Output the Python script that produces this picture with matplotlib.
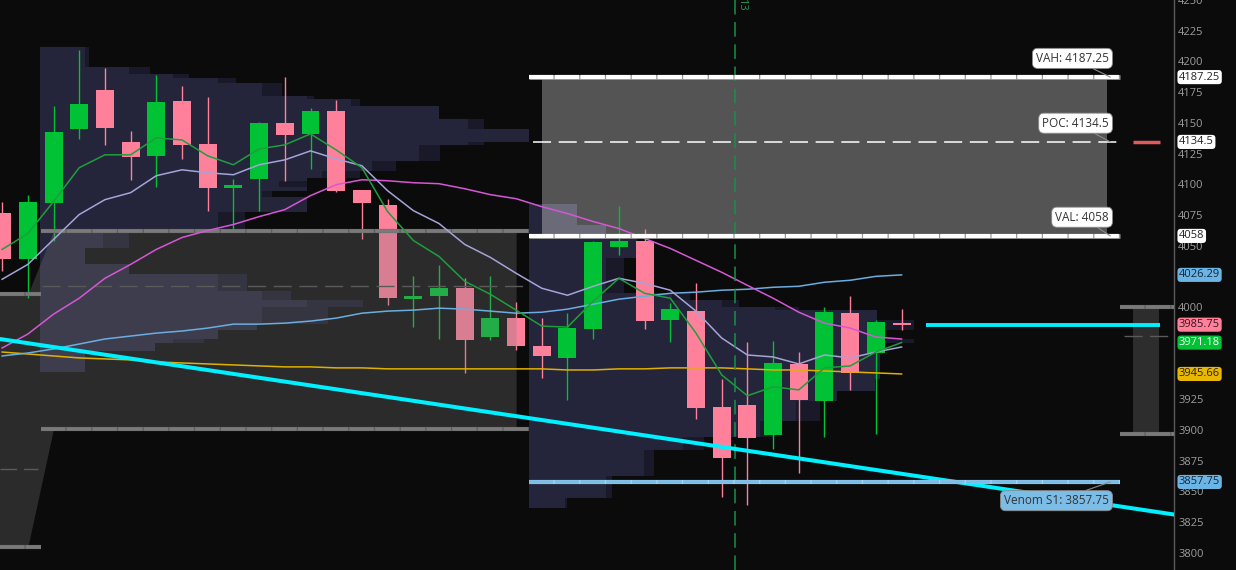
import matplotlib
matplotlib.use("Agg")
import matplotlib.pyplot as plt
import matplotlib.transforms as mtransforms
from matplotlib.patches import Rectangle

plt.rcParams['font.family'] = ['Open Sans', 'DejaVu Sans']
plt.rcParams['lines.scale_dashes'] = False

# ---------------- data ----------------
bars = list(range(-1, 35))
opens = [4077.0, 4038.9, 4085.1, 4145.1, 4176.7, 4134.5, 4123.2, 4167.7, 4132.9, 4097.2,
         4104.5, 4149.9, 4141.0, 4159.6, 4095.6, 4083.5, 4006.5, 4008.9, 4015.4, 3975.7,
         3991.1, 3968.4, 3958.7, 3982.2, 4048.6, 4053.5, 3989.5, 3996.8, 3919.0, 3920.6,
         3896.3, 3953.8, 3923.8, 3995.1, 3962.7, 3986.5]
highs = [4085.9, 4091.6, 4163.7, 4209.1, 4194.5, 4143.4, 4188.8, 4179.9, 4171.0, 4104.5,
         4150.7, 4187.2, 4162.1, 4168.6, 4095.6, 4088.3, 4025.1, 4034.0, 4023.5, 4025.1,
         4004.1, 3991.1, 3995.1, 4053.5, 4082.7, 4064.0, 4003.2, 4019.4, 3941.7, 3971.6,
         3972.4, 3963.5, 4000.0, 4008.9, 3989.5, 3998.4]
lows = [4029.2, 4007.3, 4053.5, 4137.0, 4132.1, 4103.7, 4098.1, 4120.7, 4078.6, 4064.0,
        4078.6, 4102.9, 4112.6, 4094.0, 4055.1, 4001.6, 3983.8, 3974.1, 3946.5, 3973.3,
        3965.2, 3942.5, 3924.6, 3974.1, 4042.1, 3982.2, 3971.6, 3909.2, 3845.2, 3838.7,
        3884.9, 3864.7, 3894.7, 3932.7, 3897.1, 3981.4]
closes = [4038.9, 4085.9, 4142.6, 4165.3, 4145.9, 4122.4, 4166.9, 4132.1, 4097.2, 4099.7,
          4149.9, 4140.2, 4159.6, 4094.8, 4085.1, 4007.3, 4008.9, 4015.4, 3973.3, 3991.1,
          3968.4, 3960.3, 3983.0, 4052.7, 4053.5, 3988.7, 3998.4, 3918.2, 3877.6, 3893.8,
          3954.6, 3924.6, 3995.9, 3946.5, 3987.8, 3985.75]

ma_fast = [4047.0, 4059.9, 4085.9, 4113.5, 4124.0, 4124.0, 4137.8, 4136.1, 4123.2, 4115.9,
           4128.8, 4132.1, 4141.0, 4128.0, 4113.5, 4077.8, 4054.3, 4041.3, 4021.1, 4010.5,
           3997.6, 3984.6, 3983.8, 4004.9, 4023.5, 4011.3, 4007.3, 3978.9, 3944.9, 3927.9,
           3935.2, 3932.7, 3950.6, 3952.2, 3963.5, 3971.18]
ma_mid = [4022.7, 4034.8, 4055.1, 4075.4, 4087.5, 4093.2, 4107.0, 4111.8, 4109.4, 4107.8,
          4115.9, 4119.9, 4127.2, 4120.7, 4115.1, 4094.8, 4078.6, 4068.1, 4051.1, 4040.5,
          4027.6, 4015.4, 4009.7, 4017.0, 4023.5, 4019.4, 4013.8, 3996.8, 3974.9, 3961.1,
          3959.5, 3953.8, 3961.1, 3958.7, 3963.5, 3967.6]
ma_slow = [3966.8, 3978.1, 3994.3, 4007.3, 4023.5, 4034.8, 4047.0, 4056.7, 4062.4, 4067.3,
           4073.7, 4079.4, 4090.8, 4099.7, 4103.7, 4102.9, 4101.3, 4100.5, 4096.4, 4091.6,
           4088.3, 4081.8, 4076.2, 4069.7, 4064.0, 4055.9, 4047.8, 4038.1, 4028.4, 4017.8,
           4007.3, 3995.9, 3987.0, 3983.0, 3975.7, 3974.1]
ma_blue = [3960.3, 3962.7, 3966.0, 3970.0, 3974.1, 3976.5, 3978.9, 3980.6, 3983.0, 3986.2,
           3986.2, 3987.0, 3988.7, 3991.1, 3995.1, 3996.8, 3997.6, 3999.2, 3998.4, 3996.8,
           3995.1, 3995.9, 3998.4, 4002.4, 4006.5, 4008.9, 4011.3, 4012.2, 4013.8, 4014.6,
           4016.2, 4017.0, 4020.3, 4021.9, 4025.1, 4026.29]
ma_gold = [3963.5, 3961.9, 3960.3, 3958.7, 3957.9, 3957.1, 3955.4, 3954.6, 3953.8, 3953.0,
           3952.2, 3951.4, 3951.4, 3950.6, 3950.6, 3949.8, 3949.8, 3949.8, 3949.8, 3949.8,
           3949.8, 3949.8, 3948.9, 3948.9, 3949.8, 3949.8, 3950.6, 3950.6, 3950.6, 3949.8,
           3948.9, 3948.9, 3948.1, 3947.3, 3946.5, 3945.66]

# value-area levels
VAH, POC, VAL = 4187.25, 4134.5, 4058.0
S1 = 3857.75
LAST = 3985.75
prev_bars = [-1.3, 0, 1, 19]
prev_upper = [4010.5, 4010.5, 4062.25, 4062.25]
prev_lower = [3804.75, 3804.75, 3901.0, 3901.0]
prev_poc = [3868.0, 4017.0]
next_levels = [4000.0, 3976.5, 3897.0]
trend_pts = [(0, 3970.7), (34, 3864.4)]

# volume profiles (price low, price high, width in bars, extra width)
lp_lo = [3947.3, 3964.3, 3970.8, 3974.1, 3981.4, 3986.2, 4000.0, 4005.7, 4013.0, 4026.7,
         4034.8, 4047.8, 4062.4, 4077.8, 4090.0, 4094.8, 4098.1, 4102.9, 4105.3, 4111.0,
         4119.1, 4132.1, 4134.5, 4145.1, 4153.2, 4163.7, 4169.4, 4171.8, 4182.3, 4186.4,
         4189.6, 4195.3]
lp_hi = lp_lo[1:] + [4211.5]
lp_vol = [1.75, 4.47, 5.18, 6.93, 8.44, 8.64, 10.39, 8.64, 6.93, 3.46,
          1.75, 2.45, 6.93, 10.39, 8.64, 10.39, 9.30, 10.39, 10.97, 12.92,
          14.75, 16.65, 19.03, 16.65, 15.53, 12.10, 10.39, 8.64, 6.93, 5.18,
          3.46, 1.75]
lp_ext = [0, 0, 1.21, 0, 0, 2.57, 2.18, 1.13, 1.13, 0,
          0, 1.01, 1.05, 0, 0.39, 0, 1.09, 0, 1.48, 0.93,
          0.82, 0.62, 0, 0.62, 0, 0.35, 0.27, 0.78, 0.70, 0.62,
          0.82, 0.16]
rp_lo = [3836.3, 3844.4, 3863.0, 3884.1, 3894.7, 3907.6, 3923.8, 3931.9, 3941.7, 3970.8,
         3974.1, 3981.4, 3989.5, 3997.6, 4000.0, 4005.7, 4011.3, 4039.7, 4058.0, 4066.5]
rp_hi = rp_lo[1:] + [4084.3]
rp_vol = [1.40, 3.00, 4.47, 5.99, 8.99, 10.39, 11.98, 13.46, 13.66, 13.54,
          13.54, 13.54, 13.54, 9.57, 7.51, 5.56, 3.00, 4.20, 3.00, 1.87]
rp_ext = [0.08, 0.23, 0.39, 0.82, 0.58, 0.93, 0, 0, 0, 1.44,
          0, 1.44, 0, 0.93, 0.66, 0.70, 0.70, 0, 0, 0]

yticks = [3800, 3825, 3850, 3875, 3900, 3925, 4000, 4050, 4075, 4100, 4125, 4150,
          4175, 4200, 4225, 4250]

# ---------------- style ----------------
BG = '#0b0b0b'
GREEN = '#00c234'
PINK = '#ff809b'
PROF = '#24243a'
PROF_EXT = '#19192a'
PROF_IN = '#6a6a78'
PROF_EXT_IN = '#5e5e68'

W, H = 1236, 570
AX_W = 1174
fig = plt.figure(figsize=(W / 100, H / 100), dpi=100, facecolor=BG)
ax = fig.add_axes([0, 0, AX_W / W, 1])
ax.set_facecolor(BG)
XMIN, XMAX = -1.082, 44.6
ax.set_xlim(XMIN, XMAX)
ax.set_ylim(3786.1, 4248.0)
bar_pt = AX_W / (XMAX - XMIN) * 72 / 100.0


def seg_line(x0, x1, y, color, sep, lw, z):
    ax.plot([x0, x1], [y, y], color=sep, lw=lw, solid_capstyle='butt', zorder=z)
    ax.plot([x0, x1], [y, y], color=color, lw=lw - 0.4, ls=(0, (bar_pt - 0.9, 0.9)),
            dash_capstyle='butt', zorder=z + 0.01)


# value area box (current)
VA_X0, VA_X1 = 20.0, 42.0
ax.add_patch(Rectangle((VA_X0, VAL), VA_X1 - VA_X0, VAH - VAL, fc='#545454', ec='none', zorder=1))


def draw_profile(x0, lo, hi, vol, ext, box=None):
    for a, b, v, e in zip(lo, hi, vol, ext):
        segs = [(x0, v, PROF, PROF_IN)]
        if e > 0:
            segs.append((x0 + v, e, PROF_EXT, PROF_EXT_IN))
        for sx, w, c_out, c_in in segs:
            ax.add_patch(Rectangle((sx, a), w, b - a, fc=c_out, ec='none', zorder=2,
                                   antialiased=False))
            if box is not None:
                bx0, bx1, by0, by1 = box
                ix0, ix1 = max(sx, bx0), min(sx + w, bx1)
                iy0, iy1 = max(a, by0), min(b, by1)
                if ix1 > ix0 and iy1 > iy0:
                    ax.add_patch(Rectangle((ix0, iy0), ix1 - ix0, iy1 - iy0, fc=c_in,
                                           ec='none', zorder=2.1, antialiased=False))


draw_profile(0.47, lp_lo, lp_hi, lp_vol, lp_ext)
draw_profile(19.5, rp_lo, rp_hi, rp_vol, rp_ext, box=(VA_X0, VA_X1, VAL, VAH))

# candles
cols = [GREEN if c >= o else PINK for o, c in zip(opens, closes)]
ax.vlines(bars, lows, highs, colors=cols, lw=1.0, zorder=3)
bottoms = [min(o, c) for o, c in zip(opens, closes)]
heights = [max(abs(c - o), 1.6) for o, c in zip(opens, closes)]
ax.bar(bars, heights, bottom=bottoms, width=0.7, color=cols, lw=0, zorder=3)

# previous value area cloud (semi-transparent over candles)
ax.fill_between(prev_bars, prev_lower, prev_upper, color='#7c7c7c', alpha=0.29, lw=0, zorder=4)
seg_line(XMIN, 0.5, prev_upper[0], '#7a7a7a', '#5c5c5c', 3.0, 5)
seg_line(XMIN, 0.5, prev_lower[0], '#7a7a7a', '#5c5c5c', 3.0, 5)
seg_line(0.5, 19.5, prev_upper[-1], '#7a7a7a', '#5c5c5c', 3.0, 5)
seg_line(0.5, 19.5, prev_lower[-1], '#7a7a7a', '#5c5c5c', 3.0, 5)
ax.plot([XMIN, 0.4], [prev_poc[0]] * 2, color='#5a5a5a', lw=1.0, ls=(0, (12, 5)), zorder=4.5)
ax.plot([0.55, 19.5], [prev_poc[1]] * 2, color='#5a5a5a', lw=1.0, ls=(0, (13, 5.5)), zorder=4.5)

# next session box on the right
ax.add_patch(Rectangle((43.0, next_levels[2]), 1.0, next_levels[0] - next_levels[2],
                       fc='#2d2d2d', ec='none', zorder=1))
seg_line(42.5, 44.6, next_levels[0], '#7a7a7a', '#5c5c5c', 3.0, 5)
seg_line(42.5, 44.6, next_levels[2], '#7a7a7a', '#5c5c5c', 3.0, 5)
ax.plot([42.65, 44.5], [next_levels[1]] * 2, color='#5a5a5a', lw=1.0, ls=(0, (13, 5.5)), zorder=4.5)
ax.plot([43.0, 44.05], [POC, POC], color='#e05a5e', lw=2.5, solid_capstyle='butt', zorder=5)
ax.plot([34.96, 44.05], [LAST, LAST], color='#00f0ff', lw=2.8, solid_capstyle='butt', zorder=6)

# moving averages
ax.plot(bars, ma_gold, color='#e0b000', lw=1.1, zorder=6)
ax.plot(bars, ma_blue, color='#6aaee0', lw=1.1, zorder=6)
ax.plot(bars, ma_slow, color='#d657d6', lw=1.1, zorder=6)
ax.plot(bars, ma_mid, color='#a4a4d8', lw=1.1, zorder=6)
ax.plot(bars, ma_fast, color='#1f9e3c', lw=1.1, zorder=6)

# trend line
ax.axline(trend_pts[0], trend_pts[1], color='#00f0ff', lw=2.9, zorder=6.5)

# vertical date marker
ax.axvline(27.5, color='#17914a', lw=1.1, ls=(0, (10.5, 5.5)), zorder=6)
ax.text(27.79, 4241.5, '13', rotation=-90, ha='center', va='bottom', fontsize=8,
        color='#1f9a50', zorder=6)

# value area lines
seg_line(19.5, 42.5, VAH, '#ffffff', '#9a9a9a', 3.4, 7)
seg_line(19.5, 42.5, VAL, '#ffffff', '#9a9a9a', 3.4, 7)
ax.plot([19.65, 42.4], [POC, POC], color='#ffffff', lw=1.1, ls=(0, (13, 5.5)), zorder=7)
seg_line(19.5, 42.5, S1, '#7cbde8', '#a8d4f0', 3.0, 7)


def level_label(text, y, above, fc):
    dy = 8.8 if above else -8.8
    ax.annotate(text, xy=(42.12, y), xytext=(-1.0, dy), textcoords='offset points',
                ha='right', va='bottom' if above else 'top', fontsize=8.5, color='#333333',
                bbox=dict(boxstyle='round,pad=0.3,rounding_size=0.45', fc=fc, ec='#8a8a8a', lw=0.6),
                arrowprops=dict(arrowstyle='-', color='#8a8a8a', lw=0.8, shrinkA=0, shrinkB=0),
                zorder=9)


level_label('VAH: 4187.25', VAH, True, 'white')
level_label('POC: 4134.5', POC, True, 'white')
level_label('VAL: 4058', VAL, True, 'white')
level_label('Venom S1: 3857.75', S1, False, '#7cbde8')

# price axis
for s in ['top', 'left', 'bottom']:
    ax.spines[s].set_visible(False)
ax.spines['right'].set_color('#5a5a5a')
ax.spines['right'].set_linewidth(1.0)
ax.set_xticks([])
ax.yaxis.tick_right()
ax.set_yticks(yticks)
ax.set_yticklabels([str(t) for t in yticks])
ax.tick_params(axis='y', length=0, pad=3, labelsize=8, labelcolor='#9d9d9d')

trans = mtransforms.blended_transform_factory(ax.transAxes, ax.transData)
badges = [
    ('4187.25', VAH, 'white', '#222222'),
    ('4134.5', POC, 'white', '#222222'),
    ('4058', VAL, 'white', '#222222'),
    ('4026.29', ma_blue[-1], '#6cb4e4', '#14283a'),
    ('3985.75', LAST, '#ff8098', '#3a1420'),
    ('3971.18', ma_fast[-1], '#00c234', '#ffffff'),
    ('3945.66', ma_gold[-1], '#e8b800', '#2a2000'),
    ('3857.75', S1, '#6cb4e4', '#14283a'),
]
for txt, y, fc, tc in badges:
    ax.text((1177 + 2.0) / AX_W, y, txt, transform=trans, ha='left', va='center',
            fontsize=8, color=tc, clip_on=False, zorder=10,
            bbox=dict(boxstyle='round,pad=0.14,rounding_size=0.3', fc=fc, ec='none'))

fig.savefig('out.png', dpi=100, facecolor=BG)
